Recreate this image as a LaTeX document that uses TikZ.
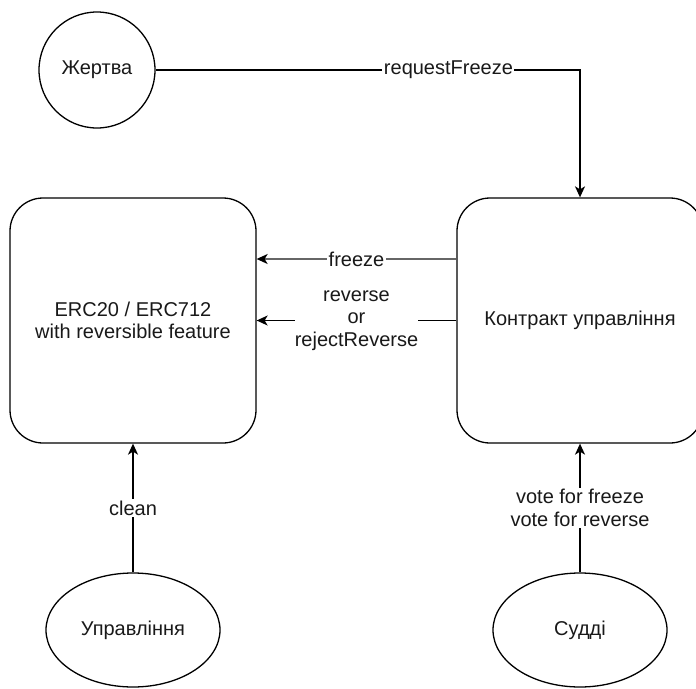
\documentclass[tikz,border=0pt]{standalone}
\usepackage{fontspec}
\setmainfont{Liberation Sans}
\usetikzlibrary{arrows.meta,shapes.geometric}
\begin{document}
\begin{tikzpicture}[x=1pt,y=-1pt,
  every node/.style={font=\fontsize{20}{22.5}\selectfont, text=black!90},
  box/.style={draw, line width=1.3pt, rounded corners=33pt, minimum width=246pt,
              minimum height=245pt, inner sep=0pt, align=center},
  actor/.style={draw, line width=1.3pt, ellipse, minimum width=174pt,
                minimum height=114pt, inner sep=0pt},
  victim/.style={draw, line width=1.3pt, circle, minimum size=116pt, inner sep=0pt},
  flow/.style={line width=1.4pt, -{Stealth[length=11pt,width=10pt,inset=3pt]}},
  lbl/.style={fill=white, inner sep=1.5pt, align=center}]
  \useasboundingbox (0,0) rectangle (696,688);

  % main blocks
  \node[box] (token) at (133,320.5) {ERC20 / ERC712\\with reversible feature};
  \node[box] (gov) at (580,320.5) {Контракт управління};

  % participants
  \node[victim] (victim) at (97,70) {Жертва};
  \node[actor] (admin) at (133,630) {Управління};
  \node[actor] (judges) at (580,630) {Судді};

  % helper rows for the horizontal calls
  \coordinate (rowF) at (0,259);
  \coordinate (rowR) at (0,320.5);
  \coordinate (rowQ) at (0,70);

  % victim asks to freeze
  \draw[flow] (victim.east) -- node[lbl, pos=0.69] {requestFreeze}
    (rowQ -| gov.north) -- (gov.north);

  % governance contract calls into the token
  \draw[flow, draw=black!60, -{Stealth[length=11pt,width=10pt,inset=3pt,black]}]
    (rowF -| gov.west) -- node[lbl] {freeze} (rowF -| token.east);
  \draw[flow] (rowR -| gov.west) --
    node[lbl, inner sep=0pt, minimum width=122pt] {reverse\\or\\rejectReverse}
    (rowR -| token.east);

  % administration and judges
  \draw[flow] (admin.north) -- node[lbl] {clean} (token.south);
  \draw[flow] (judges.north) -- node[lbl] {vote for freeze\\vote for reverse} (gov.south);
\end{tikzpicture}
\end{document}
